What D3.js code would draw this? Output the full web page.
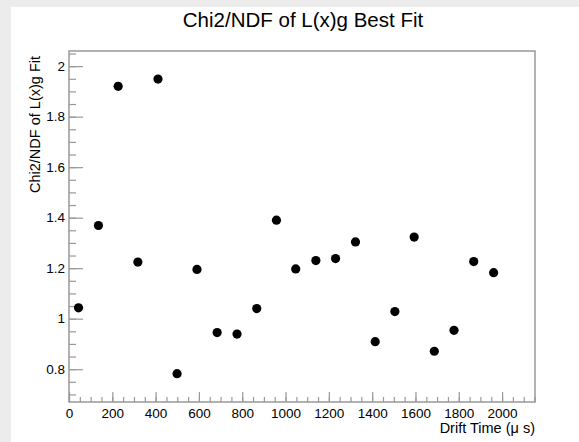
<!DOCTYPE html>
<html>
<head>
<meta charset="utf-8">
<script src="https://cdn.jsdelivr.net/npm/d3@7"></script>
<style>
  body { margin: 0; background: #ececec; }
  svg { display: block; font-family: "Liberation Sans", Arial, sans-serif; }
</style>
</head>
<body>
<script>
// drift time bins (us) and the chi2/ndf of each fit
const driftTime = [44, 136, 227, 318, 411, 499, 591, 684, 776, 867, 958,
                   1047, 1140, 1231, 1323, 1414, 1505, 1594, 1687, 1778, 1869, 1961];
const chi2ndf = [1.043, 1.369, 1.920, 1.224, 1.949, 0.782, 1.195, 0.945, 0.939, 1.040, 1.390,
                 1.197, 1.230, 1.238, 1.304, 0.909, 1.028, 1.323, 0.871, 0.954, 1.226, 1.182];
const xTicks = [0, 200, 400, 600, 800, 1000, 1200, 1400, 1600, 1800, 2000];
const yTicks = [0.8, 1, 1.2, 1.4, 1.6, 1.8, 2];

const title = "Chi2/NDF of L(x)g Best Fit";
const xTitle = "Drift Time (\u03bc s)";
const yTitle = "Chi2/NDF of L(x)g Fit";

const W = 579, H = 442;
const frame = { left: 69, top: 51, right: 535, bottom: 402 };
const axisCol = "#999";

const svg = d3.select("body").append("svg")
    .attr("width", W)
    .attr("height", H);

// white pad, grey border only on top/left like the screenshot
svg.append("rect")
    .attr("x", 11).attr("y", 7)
    .attr("width", W - 11).attr("height", H - 7)
    .attr("fill", "white");

const x = d3.scaleLinear().domain([0, 2152]).range([frame.left, frame.right]);
const y = d3.scaleLinear().domain([0.67, 2.06]).range([frame.bottom, frame.top]);

// frame
svg.append("rect")
    .attr("x", frame.left).attr("y", frame.top)
    .attr("width", frame.right - frame.left)
    .attr("height", frame.bottom - frame.top)
    .attr("fill", "none")
    .attr("stroke", axisCol)
    .attr("stroke-width", 1.5);

// minor ticks
const xMinor = d3.range(0, 2152, 50);
const yMinor = d3.range(0.7, 2.06, 0.05).map(v => +v.toFixed(2));

svg.append("g")
    .attr("transform", `translate(0,${frame.bottom})`)
    .call(d3.axisBottom(x).tickValues(xMinor).tickSize(-5).tickFormat(""));
svg.append("g")
    .attr("transform", `translate(${frame.left},0)`)
    .call(d3.axisLeft(y).tickValues(yMinor).tickSize(-7).tickFormat(""));

// major ticks + labels
svg.append("g")
    .attr("transform", `translate(0,${frame.bottom})`)
    .call(d3.axisBottom(x).tickValues(xTicks).tickSize(-10).tickPadding(6)
        .tickFormat(d3.format("d")));
svg.append("g")
    .attr("transform", `translate(${frame.left},0)`)
    .call(d3.axisLeft(y).tickValues(yTicks).tickSize(-14).tickPadding(4)
        .tickFormat(d3.format("~g")));

svg.selectAll(".domain").remove();
svg.selectAll(".tick line").attr("stroke", axisCol).attr("stroke-width", 1.2);
svg.selectAll(".tick text")
    .attr("fill", "#000")
    .style("font-size", "13.5px")
    .style("font-family", "'Liberation Sans', Arial, sans-serif");

// points
svg.append("g")
    .selectAll("circle")
    .data(driftTime)
    .join("circle")
    .attr("cx", d => x(d))
    .attr("cy", (d, i) => y(chi2ndf[i]))
    .attr("r", 4.6)
    .attr("fill", "#000");

// titles
svg.append("text")
    .attr("x", 303).attr("y", 27)
    .attr("text-anchor", "middle")
    .style("font-size", "20.5px")
    .text(title);

svg.append("text")
    .attr("x", frame.right).attr("y", 433)
    .attr("text-anchor", "end")
    .style("font-size", "14.5px")
    .text(xTitle);

svg.append("text")
    .attr("transform", `translate(40,${frame.top + 5}) rotate(-90)`)
    .attr("text-anchor", "end")
    .style("font-size", "14.5px")
    .text(yTitle);
</script>
</body>
</html>
